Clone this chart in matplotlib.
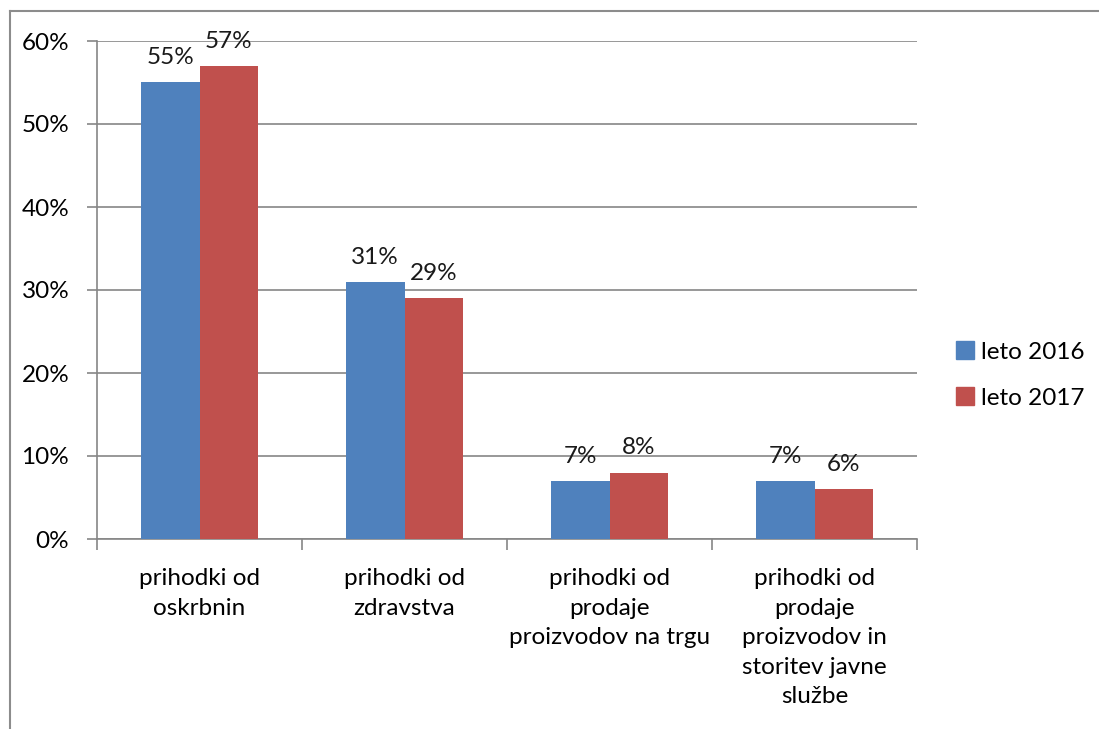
import numpy as np
import matplotlib.pyplot as plt
from matplotlib.lines import Line2D
from matplotlib.patches import Patch

plt.rcParams['font.family'] = ['Lato', 'DejaVu Sans']

kategorije = ['prihodki od\noskrbnin', 'prihodki od\nzdravstva',
              'prihodki od\nprodaje\nproizvodov na trgu',
              'prihodki od\nprodaje\nproizvodov in\nstoritev javne\nslužbe']
leto_2016 = [55, 31, 7, 7]
leto_2017 = [57, 29, 8, 6]
serije = ['leto 2016', 'leto 2017']
barve = ['#4F81BD', '#C0504D']

W, H = 1099, 729
fig = plt.figure(figsize=(W / 100, H / 100), dpi=100)

# okvir okoli grafa (levo in zgoraj)
fig.add_artist(Line2D([9.5 / W, 9.5 / W], [0, 1 - 11 / H], color='#8c8c8c', lw=1.5, transform=fig.transFigure))
fig.add_artist(Line2D([9.5 / W, 1], [1 - 11 / H, 1 - 11 / H], color='#8c8c8c', lw=1.5, transform=fig.transFigure))

ax = fig.add_axes([97 / W, 1 - 539 / H, (917 - 97) / W, (539 - 41) / H])

x = np.arange(len(kategorije))
w = 0.285
b1 = ax.bar(x - w / 2, leto_2016, w, color=barve[0], zorder=3)
b2 = ax.bar(x + w / 2, leto_2017, w, color=barve[1], zorder=3)

for bars in (b1, b2):
    for r in bars:
        ax.text(r.get_x() + r.get_width() / 2, r.get_height() + 1.7, f'{r.get_height():.0f}%',
                ha='center', va='bottom', fontsize=17.5, color='#1a1a1a')

ax.set_xlim(-0.5, len(kategorije) - 0.5)
ax.set_ylim(0, 60)
ax.set_yticks(range(0, 61, 10))
ax.set_yticklabels([f'{v}%' for v in range(0, 61, 10)], fontsize=17.5)
ax.yaxis.grid(True, color='#868686', lw=1.2, zorder=0)

ax.set_xticks(np.arange(-0.5, len(kategorije), 1))
ax.set_xticklabels([])
ax.set_xticks(x, minor=True)
ax.set_xticklabels(kategorije, minor=True, fontsize=17.5, linespacing=1.5)
ax.tick_params(axis='x', which='minor', length=0, pad=21)
ax.tick_params(axis='x', which='major', length=8, color='#868686', width=1.2)
ax.tick_params(axis='y', length=7, color='#868686', width=1.2, pad=13)

for s in ['top', 'right']:
    ax.spines[s].set_visible(False)
for s in ['left', 'bottom']:
    ax.spines[s].set_color('#868686')
    ax.spines[s].set_linewidth(1.2)

handles = [Patch(color=c) for c in barve]
fig.legend(handles, serije, loc='center left', bbox_to_anchor=(934 / W, 1 - 375 / H),
           frameon=False, fontsize=17.5, handlelength=0.75, handleheight=0.75,
           handletextpad=0.3, labelspacing=1.0)

fig.savefig('out.png', dpi=100)
